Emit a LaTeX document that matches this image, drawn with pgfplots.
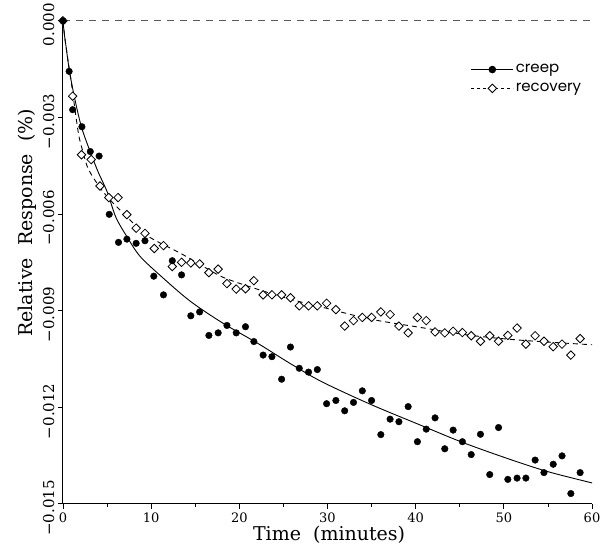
\documentclass[border=0pt]{standalone}
\usepackage{fontspec}
\setmainfont{DejaVu Serif}
\newfontfamily\legfont{Poppins}
\usepackage{pgfplots}
\pgfplotsset{compat=1.18}
\usepackage{pgfplotstable}

\pgfplotstableread{
t y
0 0
0.7 -0.00157
1.1 -0.00276
2.15 -0.00329
3.1 -0.00406
4.1 -0.00420
5.25 -0.00601
6.3 -0.00688
7.25 -0.00678
8.3 -0.00691
9.3 -0.00683
10.3 -0.00793
11.4 -0.00851
12.4 -0.00745
13.45 -0.00789
14.5 -0.00916
15.5 -0.00904
16.55 -0.00977
17.6 -0.00969
18.6 -0.00946
19.65 -0.00969
20.7 -0.00950
21.65 -0.00996
22.7 -0.01038
23.7 -0.01043
24.8 -0.01113
25.8 -0.01013
26.8 -0.01079
27.85 -0.01091
28.85 -0.01083
29.9 -0.01189
30.95 -0.01179
31.95 -0.01211
32.95 -0.01185
33.95 -0.01149
35.0 -0.01179
36.05 -0.01285
37.1 -0.01237
38.1 -0.01245
39.15 -0.01198
40.2 -0.01307
41.2 -0.01268
42.2 -0.01233
43.3 -0.01329
44.25 -0.01271
45.3 -0.01307
46.3 -0.01347
47.35 -0.01284
48.4 -0.01409
49.4 -0.01263
50.45 -0.01424
51.5 -0.01420
52.5 -0.01420
53.55 -0.01364
54.55 -0.01403
55.6 -0.01377
56.6 -0.01351
57.6 -0.01468
58.65 -0.01403
}\creep

\pgfplotstableread{
t y
0 0
1.1 -0.00234
2.1 -0.00416
3.2 -0.00431
4.2 -0.00513
5.2 -0.00549
6.25 -0.00549
7.25 -0.00602
8.3 -0.00644
9.3 -0.00660
10.35 -0.00707
11.4 -0.00698
12.4 -0.00763
13.45 -0.00750
14.5 -0.00752
15.5 -0.00755
16.55 -0.00782
17.6 -0.00771
18.6 -0.00816
19.65 -0.00833
20.7 -0.00832
21.65 -0.00807
22.7 -0.00851
23.7 -0.00851
24.8 -0.00851
25.8 -0.00860
26.8 -0.00885
27.85 -0.00885
28.85 -0.00885
29.9 -0.00877
30.95 -0.00897
31.95 -0.00948
32.95 -0.00931
33.95 -0.00921
35.0 -0.00921
36.05 -0.00904
37.1 -0.00912
38.1 -0.00948
39.15 -0.00969
40.2 -0.00921
41.2 -0.00931
42.2 -0.00966
43.3 -0.00969
44.25 -0.00964
45.3 -0.00968
46.3 -0.00978
47.35 -0.00995
48.4 -0.00978
49.4 -0.00995
50.45 -0.00977
51.5 -0.00954
52.5 -0.01004
53.55 -0.00978
54.55 -0.00995
55.6 -0.01012
56.6 -0.01004
57.6 -0.01038
58.65 -0.00987
}\recov

\pgfplotstableread{
t y
0 0
0.15 -0.0004
0.35 -0.0008
0.76 -0.0016
1.4 -0.0025
2.1 -0.0033
3.0 -0.0040
4.0 -0.0047
5.0 -0.0053
6.0 -0.0061
7.2 -0.00668
8.7 -0.0073
11 -0.0079
14.4 -0.0087
18.2 -0.0094
22 -0.0100
25.7 -0.01063
29.3 -0.0112
34.8 -0.0119
40.5 -0.01255
45.4 -0.0131
50.5 -0.0136
55 -0.0140
60 -0.01435
}\creepfit

\pgfplotstableread{
t y
0 0
0.2 -0.0005
0.5 -0.0011
0.94 -0.0019
1.74 -0.00347
2.3 -0.0041
2.87 -0.0046
4.0 -0.0051
5.14 -0.0055
7.3 -0.0061
9.6 -0.00668
13.2 -0.0072
15.5 -0.00756
18.2 -0.00797
22 -0.00833
25.7 -0.00864
29.5 -0.0089
34.8 -0.00926
40.5 -0.00952
46 -0.00976
52 -0.00992
60 -0.01006
}\recovfit

\begin{document}
\begin{tikzpicture}
\begin{axis}[
  width=529pt, height=483pt, scale only axis,
  xmin=0, xmax=60, ymin=-0.015, ymax=0,
  clip=false,
  axis x line*=bottom, axis y line*=left,
  axis line style={line width=1pt},
  tick align=outside,
  major tick length=5pt, minor tick length=3pt,
  tick style={black, line width=0.8pt},
  xtick={0,10,...,60}, minor xtick={5,15,...,55},
  ytick={-0.015,-0.012,-0.009,-0.006,-0.003,0},
  yticklabels={−0.015,−0.012,−0.009,−0.006,−0.003,0.000},
  scaled y ticks=false,
  /pgf/number format/assume math mode=true,
  yticklabel style={rotate=90, anchor=south, xshift=-4pt, font=\fontsize{15}{17}\selectfont},
  xticklabel style={font=\fontsize{13}{15}\selectfont},
  xlabel={Time\ \ (minutes)},
  ylabel={Relative\ \ Response\ \ (\%)},
  label style={font=\fontsize{19}{23}\selectfont},
  xlabel style={at={(axis description cs:0.503,-0.064)}, anchor=center},
  ylabel style={at={(axis description cs:-0.068,0.582)}, anchor=center},
  legend style={at={(axis description cs:0.765,0.918)}, anchor=north west, draw=none, fill=none,
     font=\legfont\fontsize{15}{18}\selectfont, row sep=5pt},
  legend cell align=left,
  legend image code/.code={\draw[mark repeat=2,mark phase=2] plot coordinates {(0pt,0pt)(21pt,0pt)(42pt,0pt)};},
]
\path (axis description cs:-0.119,-0.1077) rectangle (axis description cs:1.034,1.031);
\addplot[black!65, line width=0.8pt, dash pattern=on 7pt off 6pt, forget plot] coordinates {(0,0) (60,0)};
\addplot[black, line width=0.9pt, smooth, forget plot] table[x=t,y=y] {\creepfit};
\addplot[black, line width=0.9pt, dash pattern=on 5pt off 4pt, smooth, forget plot] table[x=t,y=y] {\recovfit};
\addplot[only marks, mark=square*, mark size=3pt, mark options={rotate=45, fill=white, draw=black, line width=0.8pt}, forget plot] table[x=t,y=y] {\recov};
\addplot[only marks, mark=*, mark size=3.3pt, mark options={fill=black, draw=black}, forget plot] table[x=t,y=y] {\creep};
\addlegendimage{black, line width=0.9pt, mark=*, mark size=3.3pt}
\addlegendentry{creep}
\addlegendimage{black, line width=0.9pt, dash pattern=on 3pt off 3pt, mark=square*, mark size=3pt, mark options={rotate=45, fill=white, solid}}
\addlegendentry{recovery}
\end{axis}
\end{tikzpicture}
\end{document}
